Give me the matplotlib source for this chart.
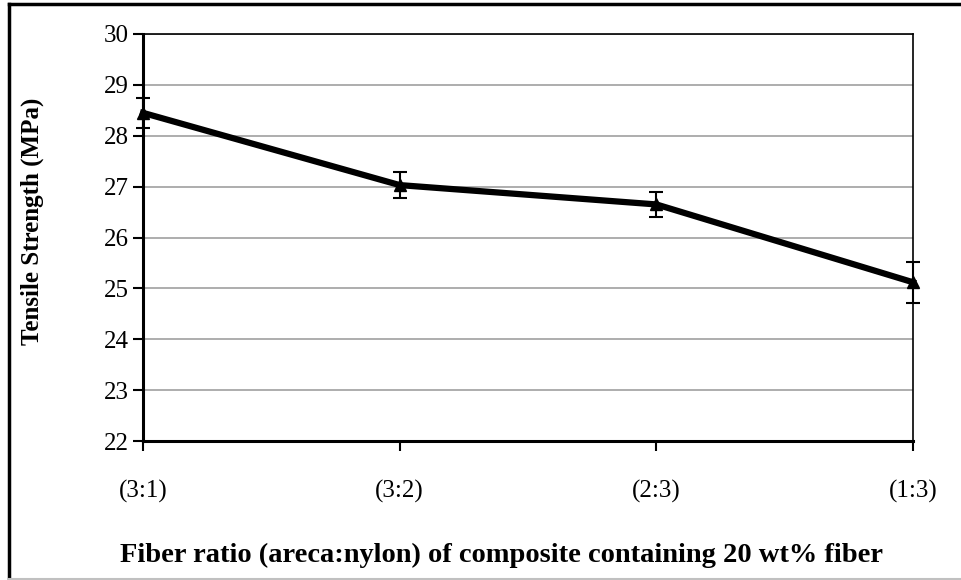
import matplotlib
matplotlib.use("Agg")
import matplotlib.pyplot as plt
from matplotlib.lines import Line2D

categories = ["(3:1)", "(3:2)", "(2:3)", "(1:3)"]
strength = [28.45, 27.03, 26.65, 25.12]
errors = [0.30, 0.25, 0.25, 0.40]
yticks = [22, 23, 24, 25, 26, 27, 28, 29, 30]

plt.rcParams['font.family'] = ['Liberation Serif', 'DejaVu Serif']

W, H = 961, 580
fig = plt.figure(figsize=(W / 100, H / 100), dpi=100)
L, R, T, B = 143, 913, 34, 441
ax = fig.add_axes([L / W, 1 - B / H, (R - L) / W, (B - T) / H])

x = list(range(len(categories)))
ax.plot(x, strength, color='black', lw=4.5, marker='^', ms=9, zorder=4, clip_on=False)
ax.errorbar(x, strength, yerr=errors, fmt='none', ecolor='black', elinewidth=1.5,
            capsize=5, capthick=1.5, zorder=5, clip_on=False)

ax.set_xlim(0, 3)
ax.set_ylim(22, 30)
ax.set_yticks(yticks)
ax.set_xticks(x)
ax.set_xticklabels(categories)
ax.grid(axis='y', color='#a0a0a0', lw=1.2)
ax.set_axisbelow(True)

for s in ['left', 'bottom']:
    ax.spines[s].set_linewidth(2.2)
    ax.spines[s].set_zorder(6)
for s in ['top', 'right']:
    ax.spines[s].set_linewidth(1.2)
ax.tick_params(axis='both', direction='out', length=7, width=1.5, labelsize=18, colors='black')
ax.tick_params(axis='x', pad=21)
ax.tick_params(axis='y', pad=3)

fig.text(501 / W, 1 - 555 / H,
         "Fiber ratio (areca:nylon) of composite containing 20 wt% fiber",
         fontsize=20.5, fontweight='bold', ha='center', va='center')
fig.text(32 / W, 1 - 221 / H, "Tensile Strength (MPa)", rotation=90, fontsize=18,
         fontweight='bold', ha='center', va='center')

# outer chart border
fig.add_artist(Line2D([9 / W, 9 / W], [1 - 4 / H, 1 - 579 / H], color='black', lw=2.5,
                      transform=fig.transFigure))
fig.add_artist(Line2D([9 / W, 1.0], [1 - 4 / H, 1 - 4 / H], color='black', lw=2.5,
                      transform=fig.transFigure))
fig.add_artist(Line2D([9 / W, 1.0], [1 - 579 / H, 1 - 579 / H], color='#c0c0c0', lw=1.5,
                      transform=fig.transFigure))

fig.savefig("out.png", dpi=100)
